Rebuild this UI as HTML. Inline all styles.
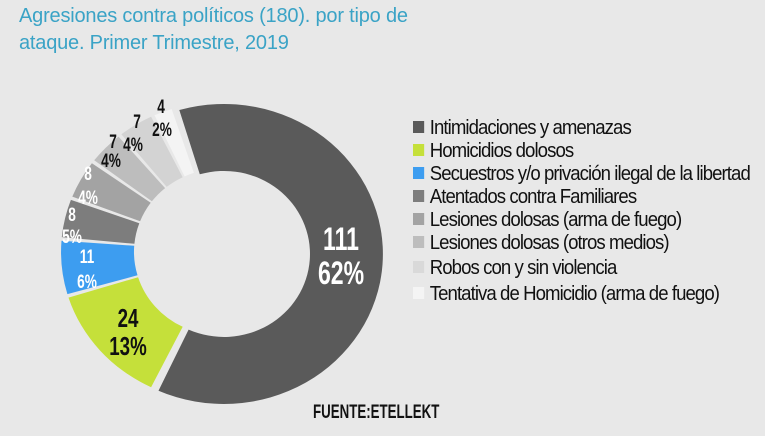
<!DOCTYPE html>
<html><head><meta charset="utf-8"><style>
body{margin:0;width:765px;height:436px;background:#e8e8e8;overflow:hidden;font-family:"Liberation Sans",sans-serif;position:relative}
.t{position:absolute;left:19px;color:#3aa3c6;font-size:20px;letter-spacing:-0.2px}
.lg{position:absolute;left:413px;font-size:20px;color:#111;letter-spacing:-1px;white-space:nowrap;transform:scaleX(0.93);transform-origin:0 0}
.lg i{display:inline-block;width:12px;height:12px;margin-right:6px;vertical-align:1px}
.src{position:absolute;left:313px;top:402px;font-weight:bold;font-size:19px;color:#111;transform:scaleX(0.7);transform-origin:0 0}
</style></head><body>
<div class="t" style="top:5px">Agresiones contra políticos (180). por tipo de</div>
<div class="t" style="top:32px">ataque. Primer Trimestre, 2019</div>
<svg id="s" width="765" height="436" style="position:absolute;left:0;top:0"></svg>
<div class="lg" style="top:117px"><i style="background:#5a5a5a"></i>Intimidaciones y amenazas</div>
<div class="lg" style="top:140px"><i style="background:#c5e03a"></i>Homicidios dolosos</div>
<div class="lg" style="top:163px"><i style="background:#3d9df0"></i>Secuestros y/o privación ilegal de la libertad</div>
<div class="lg" style="top:186px"><i style="background:#7d7d7d"></i>Atentados contra Familiares</div>
<div class="lg" style="top:209px"><i style="background:#a3a3a3"></i>Lesiones dolosas (arma de fuego)</div>
<div class="lg" style="top:232px"><i style="background:#bdbdbd"></i>Lesiones dolosas (otros medios)</div>
<div class="lg" style="top:257px"><i style="background:#d9d9d9"></i>Robos con y sin violencia</div>
<div class="lg" style="top:283px"><i style="background:#f4f4f4"></i>Tentativa de Homicidio (arma de fuego)</div>
<div class="src">FUENTE:ETELLEKT</div>
<script>
var s=document.getElementById('s'),cx=220,cy=252,rx=159,ry=150,ix=86,iy=83;
var d=[[111,'#5a5a5a'],[24,'#c5e03a'],[11,'#3d9df0'],[8,'#7d7d7d'],[8,'#a3a3a3'],[7,'#bdbdbd'],[7,'#d3d3d3'],[4,'#f4f4f4']];
var a=-17*Math.PI/180,h='';
function p(t,x,y,ox,oy){return [(cx+ox+x*Math.sin(t)).toFixed(1),(cy+oy-y*Math.cos(t)).toFixed(1)]}
d.forEach(function(v,i){var b=a+v[0]/180*2*Math.PI;var ox=i==0?4:0,oy=i==0?2:0;var g=0.012;
var a1=a+g,b1=b-g,l=(b1-a1)>Math.PI?1:0;
var P1=p(a1,rx,ry,ox,oy),P2=p(b1,rx,ry,ox,oy),P3=p(b1,ix,iy,ox,oy),P4=p(a1,ix,iy,ox,oy);
h+='<path fill="'+v[1]+'" d="M'+P1+' A'+rx+' '+ry+' 0 '+l+' 1 '+P2+' L'+P3+' A'+ix+' '+iy+' 0 '+l+' 0 '+P4+'Z"/>';a=b;});
var L=[[341,250,'111','#fff',32],[341,284,'62%','#fff',32],[128,327,'24','#111',26],[128,355,'13%','#111',26],
[87,263,'11','#fff',19],[87,288,'6%','#fff',19],[72,221,'8','#fff',19],[72,243,'5%','#fff',19],
[88,180,'8','#fff',19],[88,204,'4%','#fff',19],[113,148,'7','#111',19],[111,167,'4%','#111',19],
[137,128,'7','#111',19],[133,151,'4%','#111',19],[161,113,'4','#111',19],[162,136,'2%','#111',19]];
L.forEach(function(l){h+='<text transform="translate('+l[0]+' '+l[1]+') scale(0.72 1)" fill="'+l[3]+'" font-size="'+l[4]+'" font-weight="bold" text-anchor="middle" font-family="Liberation Sans,sans-serif">'+l[2]+'</text>';});
s.innerHTML=h;
</script>
</body></html>
